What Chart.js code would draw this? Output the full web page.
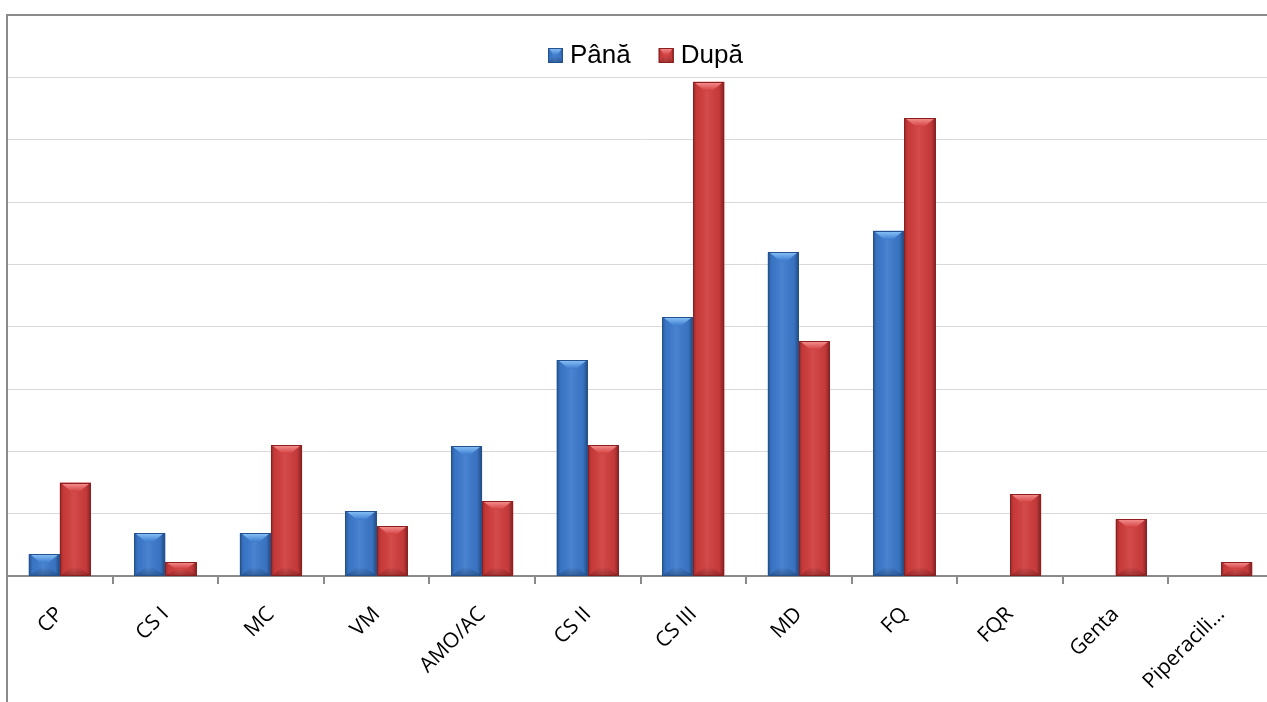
<!DOCTYPE html>
<html>
<head>
<meta charset="utf-8">
<script src="https://cdn.jsdelivr.net/npm/chart.js@4.4.1/dist/chart.umd.min.js"></script>
<style>
  html, body { margin: 0; padding: 0; background: #ffffff; overflow: hidden; }
  #wrap { width: 1275px; height: 702px; }
</style>
</head>
<body>
<div id="wrap"><canvas id="c" width="1275" height="702"></canvas></div>
<script>
// Antibiotic classes on the category axis
const categories = ['CP', 'CS I', 'MC', 'VM', 'AMO/AC', 'CS II', 'CS III', 'MD', 'FQ', 'FQR', 'Genta', 'Piperacili…'];
// Series labels
const seriesNames = ['Până', 'După'];
// Values per class (same units as the value axis)
const panaValues = [0.35, 0.69, 0.69, 1.04, 2.08, 3.46, 4.15, 5.19, 5.54, null, null, null];
const dupaValues = [1.50, 0.22, 2.10, 0.80, 1.20, 2.10, 7.93, 3.77, 7.34, 1.31, 0.91, 0.22];
// Value axis range / step
const yMin = 0;
const yMax = 9;
const yStep = 1;

const palette = {
  blue: { base: '#3b79cc', dark: '#24528f', light: '#8cc6fa' },
  red:  { base: '#d03c3c', dark: '#8e1f1f', light: '#f79494' }
};

// Outer frame lines: left edge and top edge
const framePlugin = {
  id: 'frame',
  afterDraw(chart) {
    const { ctx, chartArea } = chart;
    ctx.save();
    ctx.strokeStyle = '#8a8a8a';
    ctx.lineWidth = 2;
    ctx.beginPath();
    ctx.moveTo(chartArea.left, chart.height);
    ctx.lineTo(chartArea.left, chartArea.top);
    ctx.lineTo(chart.width, chartArea.top);
    ctx.stroke();
    ctx.restore();
  }
};

// Bevelled look on top of each drawn bar
function shadeBar(ctx, x0, x1, yTop, yBot, col) {
  const w = x1 - x0, h = yBot - yTop;
  if (h <= 0 || w <= 0) return;
  // side shading across the bar
  const g = ctx.createLinearGradient(x0, 0, x1, 0);
  g.addColorStop(0, 'rgba(0,0,0,0.30)');
  g.addColorStop(0.12, 'rgba(0,0,0,0.04)');
  g.addColorStop(0.45, 'rgba(255,255,255,0.08)');
  g.addColorStop(0.85, 'rgba(0,0,0,0.06)');
  g.addColorStop(1, 'rgba(0,0,0,0.42)');
  ctx.fillStyle = g;
  ctx.fillRect(x0, yTop, w, h);
  // top bevel
  const d = Math.min(9, h / 2);
  const inset = Math.min(w * 0.38, d * 1.5);
  const gt = ctx.createLinearGradient(0, yTop, 0, yTop + d);
  gt.addColorStop(0, col.light);
  gt.addColorStop(1, col.base);
  ctx.fillStyle = gt;
  ctx.beginPath();
  ctx.moveTo(x0 + 1, yTop);
  ctx.lineTo(x1 - 1, yTop);
  ctx.lineTo(x1 - inset, yTop + d);
  ctx.lineTo(x0 + inset, yTop + d);
  ctx.closePath();
  ctx.fill();
  // bottom bevel
  const gb = ctx.createLinearGradient(0, yBot - d, 0, yBot);
  gb.addColorStop(0, 'rgba(0,0,0,0)');
  gb.addColorStop(1, 'rgba(0,0,0,0.25)');
  ctx.fillStyle = gb;
  ctx.beginPath();
  ctx.moveTo(x0 + inset, yBot - d);
  ctx.lineTo(x1 - inset, yBot - d);
  ctx.lineTo(x1, yBot);
  ctx.lineTo(x0, yBot);
  ctx.closePath();
  ctx.fill();
  // outline
  ctx.strokeStyle = col.dark;
  ctx.lineWidth = 1;
  ctx.strokeRect(x0 + 0.5, yTop + 0.5, w - 1, h - 1);
}

const bevelPlugin = {
  id: 'bevel',
  afterDatasetsDraw(chart) {
    const ctx = chart.ctx;
    ctx.save();
    chart.data.datasets.forEach((ds, i) => {
      const meta = chart.getDatasetMeta(i);
      const col = ds._pal;
      meta.data.forEach((bar, j) => {
        if (ds.data[j] === null || ds.data[j] === undefined) return;
        const p = bar.getProps(['x', 'y', 'base', 'width'], true);
        const x0 = Math.round(p.x - p.width / 2), x1 = Math.round(p.x + p.width / 2);
        shadeBar(ctx, x0, x1, Math.round(p.y), Math.round(p.base), col);
      });
    });
    ctx.restore();
  }
};

// Legend drawn inside the plot, centred near the top
const legendPlugin = {
  id: 'innerLegend',
  afterDraw(chart) {
    const { ctx, chartArea } = chart;
    ctx.save();
    ctx.font = '26px "Liberation Sans", Arial, sans-serif';
    ctx.textBaseline = 'alphabetic';
    const box = 15, gapBox = 7, gapItem = 28;
    const items = chart.data.datasets.map(ds => ({ text: ds.label, col: ds._pal, w: ctx.measureText(ds.label).width }));
    let total = 0;
    items.forEach((it, k) => { total += box + gapBox + it.w + (k < items.length - 1 ? gapItem : 0); });
    let x = Math.round((chartArea.left + chartArea.right) / 2 - total / 2 + 5);
    const baseY = chartArea.top + 48;
    items.forEach(it => {
      const by = baseY - 15;
      ctx.fillStyle = it.col.base;
      ctx.fillRect(x, by, box, box);
      shadeBar(ctx, x, x + box, by, by + box, it.col);
      ctx.fillStyle = '#000000';
      ctx.fillText(it.text, x + box + gapBox, baseY);
      x += box + gapBox + it.w + gapItem;
    });
    ctx.restore();
  }
};

new Chart(document.getElementById('c'), {
  type: 'bar',
  data: {
    labels: categories,
    datasets: [
      { label: seriesNames[0], data: panaValues, backgroundColor: palette.blue.base, _pal: palette.blue,
        borderWidth: 0, categoryPercentage: 0.59, barPercentage: 1.0 },
      { label: seriesNames[1], data: dupaValues, backgroundColor: palette.red.base, _pal: palette.red,
        borderWidth: 0, categoryPercentage: 0.59, barPercentage: 1.0 }
    ]
  },
  options: {
    responsive: false,
    animation: false,
    layout: { padding: { left: 7, top: 15, right: 1, bottom: 0 } },
    plugins: {
      legend: { display: false },
      tooltip: { enabled: false }
    },
    scales: {
      x: {
        offset: true,
        grid: { display: true, drawOnChartArea: false, drawTicks: true, tickLength: 8, color: '#8a8a8a', lineWidth: 2, offset: true },
        border: { display: true, color: '#8a8a8a', width: 2 },
        ticks: {
          autoSkip: false, maxRotation: 45, minRotation: 45, padding: 18,
          color: '#000000', font: { family: '"Open Sans", sans-serif', size: 21 }
        },
        afterFit(s) { s.height = 126; }
      },
      y: {
        min: yMin, max: yMax,
        ticks: { display: false, stepSize: yStep },
        grid: { color: '#d9d9d9', lineWidth: 1, drawTicks: false },
        border: { display: false },
        afterFit(s) { s.width = 0; }
      }
    }
  },
  plugins: [bevelPlugin, framePlugin, legendPlugin]
});
</script>
</body>
</html>
